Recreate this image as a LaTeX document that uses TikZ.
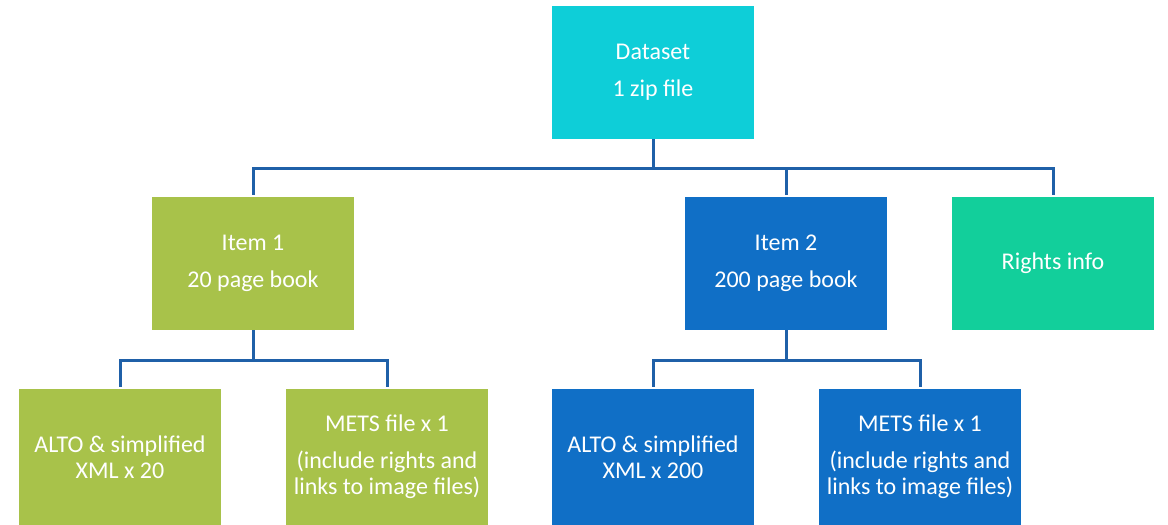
\documentclass[tikz,border=0pt]{standalone}
\usepackage{fontspec}
\setmainfont{Carlito}
\usepackage{xcolor}
\usetikzlibrary{scopes}

\definecolor{dsteal}{HTML}{0ECED8}
\definecolor{itgreen}{HTML}{A8C24A}
\definecolor{itblue}{HTML}{106FC6}
\definecolor{rtgreen}{HTML}{12CF9B}
\definecolor{linkblue}{HTML}{1F60A8}

\begin{document}
\begin{tikzpicture}[x=1pt,y=-1pt,
      box/.style={rectangle,draw=none,text=white,align=center,
                  minimum width=202pt,minimum height=133pt,inner sep=0pt,
                  font=\fontsize{24}{26}\selectfont},
      link/.style={draw=linkblue,line width=3pt,shorten >=2pt}
]
      \useasboundingbox (0,0) rectangle (1168,525);
      % top level
      \node[box,fill=dsteal] at (653,72.5) (ds) {Dataset\\[11pt]1 zip file};
      % items
      \node[box,fill=itgreen] at (253,263.5) (it1) {Item 1\\[11pt]20 page book};
      \node[box,fill=itblue] at (786,263.5) (it2) {Item 2\\[11pt]200 page book};
      \node[box,fill=rtgreen] at (1053,263.5) (rt) {Rights info};
      % files
      \node[box,fill=itgreen,minimum height=136pt] at (120,457) (alto1) {ALTO \& simplified\\XML x 20};
      \node[box,fill=itgreen,minimum height=136pt] at (387,457) (mets1) {METS file x 1\\[11pt](include rights and\\links to image files)};
      \node[box,fill=itblue,minimum height=136pt] at (653,457) (alto2) {ALTO \& simplified\\XML x 200};
      \node[box,fill=itblue,minimum height=136pt] at (920,457) (mets2) {METS file x 1\\[11pt](include rights and\\links to image files)};
      % bus lines
      \coordinate (bus0) at (0,168);
      \coordinate (bus1) at (0,360);
      {[link]
          \draw (ds.south) -- (ds.south |- bus0) -| (it1.north);
          \draw (ds.south |- bus0) -| (it2.north);
          \draw (ds.south |- bus0) -| (rt.north);
          \draw (it1.south) -- (it1.south |- bus1) -| (alto1.north);
          \draw (it1.south |- bus1) -| (mets1.north);
          \draw (it2.south) -- (it2.south |- bus1) -| (alto2.north);
          \draw (it2.south |- bus1) -| (mets2.north);
      }
\end{tikzpicture}
\end{document}
